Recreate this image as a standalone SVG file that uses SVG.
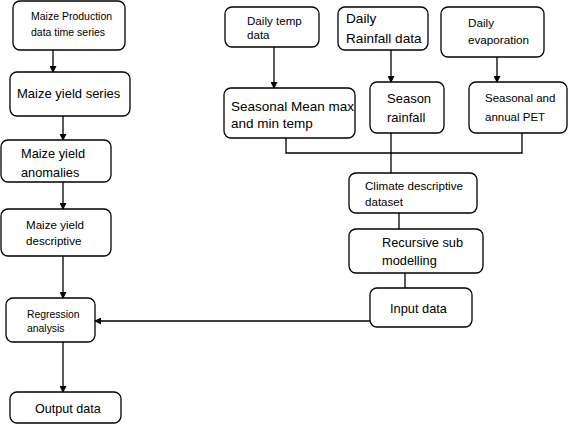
<svg xmlns="http://www.w3.org/2000/svg" width="568" height="424" viewBox="0 0 568 424">
<style>
.box{fill:#fff;stroke:#000;stroke-width:1.3}
text{font-family:"Liberation Sans",Arial,sans-serif;fill:#000}
.ln{fill:none;stroke:#000;stroke-width:1.3}
</style>
<defs>
<marker id="ah" markerWidth="7" markerHeight="7" refX="6" refY="3.5" orient="auto" markerUnits="userSpaceOnUse">
<path d="M0,0 L7,3.5 L0,7 Z" fill="#000"/>
</marker>
</defs>
<rect width="568" height="424" fill="#fff"/>
<g id="connectors">
<line class="ln" x1="53" y1="50" x2="53" y2="72" marker-end="url(#ah)"/>
<line class="ln" x1="63" y1="116" x2="63" y2="140" marker-end="url(#ah)"/>
<line class="ln" x1="63" y1="182" x2="63" y2="209" marker-end="url(#ah)"/>
<line class="ln" x1="63" y1="256" x2="63" y2="298" marker-end="url(#ah)"/>
<line class="ln" x1="63" y1="342" x2="63" y2="392" marker-end="url(#ah)"/>
<line class="ln" x1="370" y1="321" x2="95" y2="321" marker-end="url(#ah)"/>
<line class="ln" x1="274" y1="47" x2="274" y2="88" marker-end="url(#ah)"/>
<line class="ln" x1="391" y1="50" x2="391" y2="82" marker-end="url(#ah)"/>
<line class="ln" x1="497" y1="57" x2="497" y2="82" marker-end="url(#ah)"/>
<polyline class="ln" points="286,138 286,153 522,153 522,133"/>
<line class="ln" x1="391" y1="133" x2="391" y2="173"/>
<line class="ln" x1="399" y1="213" x2="399" y2="229"/>
<line class="ln" x1="405" y1="273" x2="405" y2="288"/>
</g>
<g id="maize-production">
<rect class="box" x="13" y="1" width="112" height="49" rx="7"/>
<text x="31" y="20" font-size="10.5">Maize Production</text>
<text x="31" y="36" font-size="10.5">data time series</text>
</g>
<g id="maize-yield-series">
<rect class="box" x="10" y="72" width="120" height="44" rx="7"/>
<text x="17" y="97.5" font-size="13">Maize yield series</text>
</g>
<g id="maize-yield-anomalies">
<rect class="box" x="1" y="140" width="110" height="42" rx="7"/>
<text x="21" y="157.5" font-size="12.8">Maize yield</text>
<text x="21" y="176.5" font-size="12.8">anomalies</text>
</g>
<g id="maize-yield-descriptive">
<rect class="box" x="1" y="209" width="110" height="47" rx="7"/>
<text x="26" y="229" font-size="11.6">Maize yield</text>
<text x="26" y="245" font-size="11.6">descriptive</text>
</g>
<g id="regression-analysis">
<rect class="box" x="6" y="298" width="89" height="44" rx="7"/>
<text x="27" y="318" font-size="10.4">Regression</text>
<text x="27" y="332" font-size="10.4">analysis</text>
</g>
<g id="output-data">
<rect class="box" x="10" y="392" width="111" height="31" rx="7"/>
<text x="35" y="412.5" font-size="12.6">Output data</text>
</g>
<g id="daily-temp">
<rect class="box" x="225" y="7" width="94" height="40" rx="7"/>
<text x="247" y="25" font-size="11.6">Daily temp</text>
<text x="247" y="39" font-size="11.6">data</text>
</g>
<g id="daily-rainfall">
<rect class="box" x="338" y="7" width="90" height="43" rx="7"/>
<text x="346" y="23" font-size="13.6">Daily</text>
<text x="346" y="43" font-size="13.6">Rainfall data</text>
</g>
<g id="daily-evaporation">
<rect class="box" x="441" y="7" width="103" height="50" rx="7"/>
<text x="468" y="27" font-size="11.7">Daily</text>
<text x="468" y="44" font-size="11.7">evaporation</text>
</g>
<g id="seasonal-mean-temp">
<rect class="box" x="224" y="88" width="131" height="50" rx="7"/>
<text x="231" y="111" font-size="13.5">Seasonal Mean max</text>
<text x="231" y="128" font-size="13.5">and min temp</text>
</g>
<g id="season-rainfall">
<rect class="box" x="370" y="82" width="74" height="51" rx="7"/>
<text x="387" y="103" font-size="13">Season</text>
<text x="387" y="122" font-size="13">rainfall</text>
</g>
<g id="seasonal-pet">
<rect class="box" x="469" y="82" width="98" height="51" rx="7"/>
<text x="485" y="102" font-size="11.5">Seasonal and</text>
<text x="485" y="121" font-size="11.5">annual PET</text>
</g>
<g id="climate-descriptive">
<rect class="box" x="349" y="173" width="128" height="40" rx="7"/>
<text x="365" y="190" font-size="11.6">Climate descriptive</text>
<text x="365" y="206" font-size="11.6">dataset</text>
</g>
<g id="recursive-sub-modelling">
<rect class="box" x="349" y="229" width="134" height="44" rx="7"/>
<text x="382" y="247" font-size="12.8">Recursive sub</text>
<text x="382" y="265" font-size="12.8">modelling</text>
</g>
<g id="input-data">
<rect class="box" x="370" y="288" width="102" height="39" rx="7"/>
<text x="390" y="313" font-size="12.8">Input data</text>
</g>
</svg>
